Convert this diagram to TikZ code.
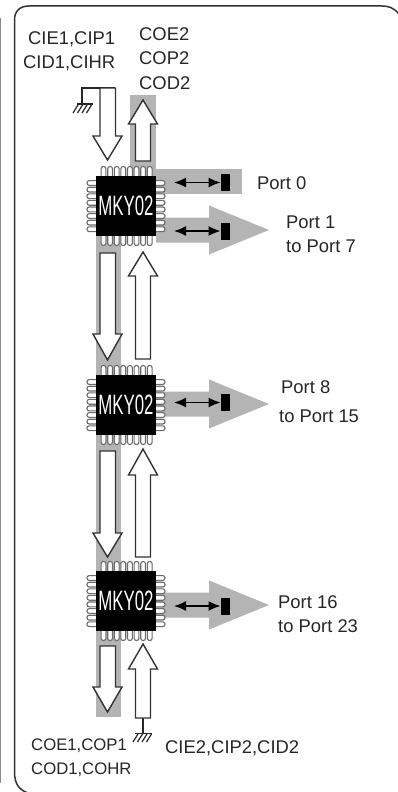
\documentclass[tikz,border=0pt]{standalone}
\usepackage{fontspec}
\setmainfont{Liberation Sans}
\usetikzlibrary{arrows.meta}
\definecolor{barg}{HTML}{B4B4B4}
\definecolor{frameg}{HTML}{333333}
\definecolor{ping}{HTML}{6A6A6A}
\tikzset{
  lbl/.style={anchor=base west,inner sep=0pt,font=\fontsize{18.4}{20}\selectfont,text=black!85},
  lblsmall/.style={lbl,font=\fontsize{16.7}{20}\selectfont},
  hollow/.style={fill=white,draw=black!80,line width=1.4pt,line join=miter},
  pin/.style={draw=ping,line width=1.1pt,fill=white,rounded corners=2.2pt},
  chipbody/.style={fill=black,draw=none,minimum width=60pt,minimum height=60pt,inner sep=0pt},
  chiptext/.style={text=white,font=\fontsize{28}{30}\selectfont,xscale=.6,inner sep=0pt},
  portblock/.style={fill=black,draw=none,minimum width=9.5pt,minimum height=17pt,inner sep=0pt},
  biarrow/.style={line width=1.6pt,black},
  wire/.style={draw=black!85,line width=1.2pt},
  hatch/.style={draw=black!85,line width=1.2pt}
}
% down arrow: #1 top y, #2 shoulder y, #3 tip y
\newcommand{\downarr}[3]{\draw[hollow] (100,#1)--(115.5,#1)--(115.5,#2)--(122,#2)--(107.5,#3)--(93,#2)--(100,#2)--cycle;}
% up arrow: #1 bottom y, #2 shoulder y, #3 tip y
\newcommand{\uparr}[3]{\draw[hollow] (135.5,#1)--(150.5,#1)--(150.5,#2)--(157.5,#2)--(143,#3)--(128.5,#2)--(135.5,#2)--cycle;}
% port arrow: #1 centre y
\newcommand{\portarr}[1]{\fill[barg] (156,#1-12.5)--(209,#1-12.5)--(209,#1-24.5)--(269,#1)--(209,#1+24.5)--(209,#1+12.5)--(156,#1+12.5)--cycle;}
% chip: #1 name, #2 top y
\newcommand{\chip}[2]{%
  \foreach \i in {0,...,7}{%
    \pgfmathsetmacro{\px}{103.5+6.6*\i}%
    \draw[pin] (\px-2.4,#2+1)--(\px-2.4,#2-9.5)--(\px+2.4,#2-9.5)--(\px+2.4,#2+1);
    \draw[pin] (\px-2.4,#2+59)--(\px-2.4,#2+69.5)--(\px+2.4,#2+69.5)--(\px+2.4,#2+59);
    \pgfmathsetmacro{\py}{#2+7+6.6*\i}%
    \draw[pin] (97,\py-2.4)--(87,\py-2.4)--(87,\py+2.4)--(97,\py+2.4);
    \draw[pin] (155,\py-2.4)--(165,\py-2.4)--(165,\py+2.4)--(155,\py+2.4);
  }
  \node[chipbody] (#1) at (126,#2+30) {};
  \node[chiptext] (#1t) at (126,#2+30) {MKY02};
}
% port driver: #1 name, #2 y
\newcommand{\portdrv}[2]{%
  \node[portblock] (#1) at (225.5,#2) {};
  \coordinate (#1s) at (174,#2);
  \draw[biarrow,{Latex[length=12pt,width=10pt]}-{Latex[length=12pt,width=10pt]}] (#1s)--(#1.west);
}
\begin{document}
\begin{tikzpicture}[x=1pt,y=-1pt]
\useasboundingbox (0,0) rectangle (398,792);
\fill[white] (0,0) rectangle (398,792);
% outer lines
\draw[draw=black!45,line width=1.4pt] (0.7,18)--(0.7,783);
\draw[draw=frameg,line width=1.5pt] (28,793)..controls (20,790) and (14.5,785)..(14.5,772)--(14.5,20)..controls (14.5,11) and (20,6)..(29,6)--(382,6)..controls (389,6) and (394,8)..(399,14);
% grey bars
\fill[barg] (130,95) rectangle (156,176);
\fill[barg] (156,169) rectangle (242,194);
\fill[barg] (96,236) rectangle (121,375);
\fill[barg] (96,435) rectangle (121,571);
\fill[barg] (96,631) rectangle (121,717);
\portarr{230}
\portarr{404}
\portarr{605}
% chips
\chip{c1}{176}
\chip{c2}{375}
\chip{c3}{571}
% port drivers
\portdrv{p0}{182.5}
\portdrv{p1}{231}
\portdrv{p8}{402.5}
\portdrv{p16}{606}
% ground top
\draw[wire] (115,88)--(82,88)--(82,104);
\draw[wire] (77,104)--(93,104);
\foreach \x in {78,82.5,87,91.5}{\draw[hatch] (\x,105)--(\x-5,113);}
% ground bottom
\draw[wire] (143,718)--(143,733);
\draw[wire] (135,733.5)--(151.5,733.5);
\foreach \x in {138,142.5,147,151.5}{\draw[hatch] (\x,734)--(\x-5,742);}
% hollow arrows
\downarr{88}{136}{160}
\uparr{161}{124}{100}
\downarr{253}{334}{360}
\uparr{359}{276}{252}
\downarr{451}{533}{557}
\uparr{557}{475}{449}
\downarr{646}{687}{712}
\uparr{718}{669}{644}
% labels
\node[lbl] (l1) at (28,45) {CIE1,CIP1};
\node[lbl] (l2) at (23,69) {CID1,CIHR};
\node[lbl] (l3) at (139,41) {COE2};
\node[lbl] (l4) at (139,65) {COP2};
\node[lbl] (l5) at (139,89.5) {COD2};
\node[lbl] (l6) at (257,189.5) {Port 0};
\node[lbl] (l7) at (286,228) {Port 1};
\node[lbl] (l8) at (286,252) {to Port 7};
\node[lbl] (l9) at (281,393) {Port 8};
\node[lbl] (l10) at (279,422) {to Port 15};
\node[lbl] (l11) at (278,608) {Port 16};
\node[lbl] (l12) at (278,632) {to Port 23};
\node[lblsmall] (l13) at (31,750) {COE1,COP1};
\node[lblsmall] (l14) at (31,774) {COD1,COHR};
\node[lbl] (l15) at (165,753) {CIE2,CIP2,CID2};
\end{tikzpicture}
\end{document}
